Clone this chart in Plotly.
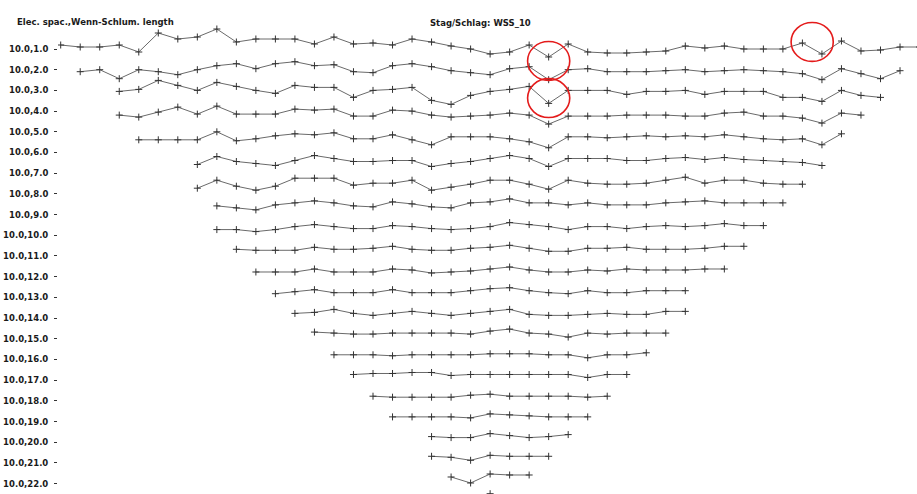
import plotly.graph_objects as go

# ---------------- data ----------------
LEVEL_LABELS = ["10.0,1.0", "10.0,2.0", "10.0,3.0", "10.0,4.0", "10.0,5.0", "10.0,6.0",
                "10.0,7.0", "10.0,8.0", "10.0,9.0", "10.0,10.0", "10.0,11.0", "10.0,12.0",
                "10.0,13.0", "10.0,14.0", "10.0,15.0", "10.0,16.0", "10.0,17.0", "10.0,18.0",
                "10.0,19.0", "10.0,20.0", "10.0,21.0", "10.0,22.0"]
LEVELS = list(range(1, 23))

# first electrode-position index of each level row
ROW_START = [0, 1, 3, 3, 4, 7, 7, 8, 8, 9, 10, 11, 12, 13, 14, 15, 16, 17, 19, 19, 20, 22]

# read deviations of each point from its level tick (display units)
ROW_DEV = [
    [-4, -2, -2, -4, 3, -16, -10, -12, -20, -7, -10, -10, -10, -5, -12, -5, -6, -4, -10, -7,
     -3, 0, 5, 3, -4, 8, -5, 3, 4, 4, 3, 2, -3, -1, -3, 0, 0, 0, -6, 5, -8, 2, 1, -2, -2],
    [2, 0, 9, 0, 2, 5, 0, -4, -6, -1, -6, -8, -4, -5, 2, 3, -4, -6, -3, 1,
     3, 5, -1, -3, 10, 0, -1, 2, 2, 2, 1, 0, 2, 1, 0, 1, 2, 4, 10, -1, 4, 9, 1],
    [1, -1, -10, -5, 0, -8, -4, 0, 3, -5, -3, -3, 7, 0, -1, -3, 10, 14, 5, 1,
     -1, -4, 13, 0, 0, 0, 4, 1, 1, 0, 4, 1, 1, 1, 7, 7, 11, 0, 5, 7],
    [4, 6, 1, -4, 3, -5, 3, 3, 3, -2, -1, -2, 5, 5, -1, 0, 4, 6, 5, 4,
     2, 4, 13, 5, 5, 5, 4, 4, 4, 5, 5, 2, 1, 5, 5, 7, 12, 2, 4],
    [8, 8, 8, 8, 0, 9, 7, 4, 2, 3, 1, 7, 7, 3, 8, 13, 5, 5, 5, 7,
     10, 16, 5, 5, 6, 5, 4, 5, 4, 5, 3, 5, 7, 8, 7, 13, 2],
    [12, 4, 9, 11, 13, 8, 3, 6, 9, 9, 8, 8, 14, 11, 9, 6, 3, 6, 14, 6,
     6, 6, 8, 8, 6, 5, 7, 5, 7, 8, 9, 10, 13],
    [15, 7, 13, 17, 13, 5, 5, 5, 12, 10, 10, 7, 17, 14, 11, 7, 7, 11, 16, 7,
     10, 11, 11, 10, 7, 4, 10, 7, 7, 10, 11, 11],
    [12, 14, 16, 11, 9, 7, 9, 12, 13, 8, 10, 13, 14, 9, 8, 5, 9, 9, 11, 9,
     11, 11, 11, 9, 8, 7, 9, 9, 9, 9],
    [15, 15, 17, 15, 12, 10, 12, 14, 14, 11, 12, 14, 15, 14, 12, 8, 10, 12, 15, 12,
     12, 14, 12, 11, 12, 11, 9, 11, 11],
    [14, 15, 15, 15, 12, 14, 14, 13, 11, 14, 15, 15, 13, 12, 10, 13, 16, 16, 13, 13,
     12, 14, 14, 14, 13, 11, 11],
    [16, 16, 16, 13, 16, 16, 16, 13, 14, 17, 16, 15, 13, 11, 14, 16, 16, 14, 15, 13,
     14, 14, 14, 13, 13],
    [17, 15, 13, 16, 16, 16, 13, 16, 16, 16, 14, 12, 11, 14, 16, 17, 14, 16, 16, 14, 14, 14],
    [16, 15, 12, 16, 18, 16, 14, 16, 18, 16, 14, 12, 17, 18, 18, 17, 16, 17, 17, 14, 14],
    [14, 15, 16, 16, 15, 15, 15, 15, 16, 13, 11, 15, 16, 19, 15, 16, 15, 15, 15],
    [16, 16, 16, 17, 16, 16, 16, 16, 15, 15, 15, 16, 16, 19, 16, 16, 14],
    [15, 14, 14, 13, 13, 16, 15, 15, 15, 15, 15, 15, 18, 15, 15],
    [16, 17, 17, 17, 17, 15, 14, 16, 16, 16, 16, 17, 16],
    [16, 16, 16, 16, 17, 13, 14, 15, 16, 16, 16],
    [15, 16, 16, 12, 14, 16, 15, 13],
    [14, 15, 18, 13, 14, 14, 14],
    [14, 20, 11, 12, 12],
    [10],
]

# highlighted spots (electrode index, level)
HIGHLIGHT_X = [25, 25, 38.5]
HIGHLIGHT_LEVEL = [1.58, 3.37, 0.66]

TITLE_LEFT = "Elec. spac.,Wenn-Schlum. length"
TITLE_CENTER = "Stag/Schlag: WSS_10"

# ---------------- style ----------------
W, H = 917, 494
ML = 58
DEV_SCALE = 1 / 20.7          # display units -> level units
X_RANGE = [-0.138, 43.87]
Y_RANGE = [22.498, -1.367]
FONT = dict(family="DejaVu Sans", size=8.5, color="#1a1a1a", weight="bold")

fig = go.Figure()
for lvl, start, devs in zip(LEVELS, ROW_START, ROW_DEV):
    xs = [start + k for k in range(len(devs))]
    ys = [lvl + d * DEV_SCALE for d in devs]
    fig.add_trace(go.Scatter(
        x=xs, y=ys, mode="lines+markers",
        line=dict(color="#6a6a6a", width=1),
        marker=dict(symbol="cross-thin", size=5, line=dict(color="#333", width=1)),
        showlegend=False, hoverinfo="skip",
    ))

rx, ry = 1.08, 0.94
for hx, hy in zip(HIGHLIGHT_X, HIGHLIGHT_LEVEL):
    fig.add_shape(type="circle", xref="x", yref="y",
                  x0=hx - rx, x1=hx + rx, y0=hy - ry, y1=hy + ry,
                  line=dict(color="#e41b1b", width=1.6))

fig.add_annotation(text=TITLE_LEFT, xref="paper", yref="paper",
                   x=(15 - ML) / (W - ML), y=1 - 22 / H, xanchor="left", yanchor="middle",
                   showarrow=False, font=FONT)
fig.add_annotation(text=TITLE_CENTER, xref="paper", yref="paper",
                   x=(480 - ML) / (W - ML), y=1 - 23 / H, xanchor="center", yanchor="middle",
                   showarrow=False, font=FONT)

fig.update_layout(
    width=W, height=H,
    margin=dict(l=ML, r=0, t=0, b=0),
    paper_bgcolor="white", plot_bgcolor="white",
    xaxis=dict(range=X_RANGE, showgrid=False, zeroline=False, showticklabels=False,
               ticks="", showline=False),
    yaxis=dict(range=Y_RANGE, showgrid=False, zeroline=False, showline=False,
               tickmode="array", tickvals=LEVELS, ticktext=LEVEL_LABELS,
               ticks="outside", ticklen=3, tickcolor="#333", tickwidth=1,
               ticklabelstandoff=4, tickfont=FONT),
)

fig.write_html("out.html")
